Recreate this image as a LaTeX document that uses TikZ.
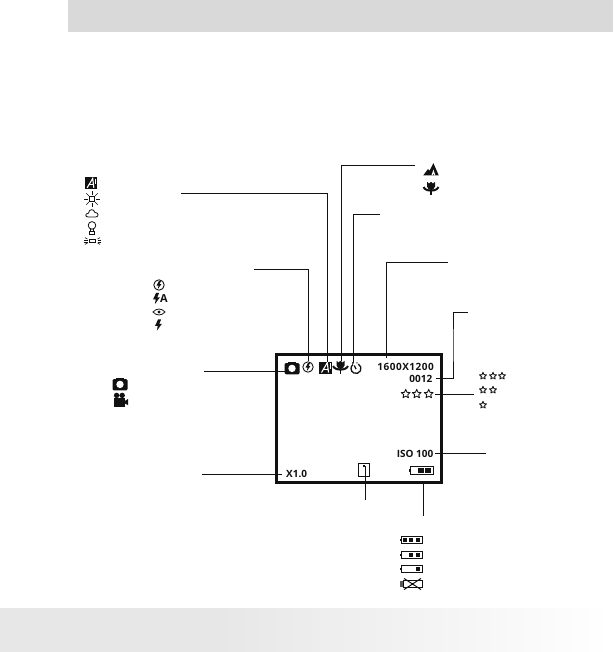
\documentclass[tikz,border=0pt]{standalone}
\usepackage{fontspec}
\setmainfont{Open Sans}
\definecolor{band}{HTML}{D9D9D9}
\definecolor{foot}{HTML}{E7E7E7}
\definecolor{ink}{HTML}{111111}
\tikzset{
  lead/.style={draw=ink,line width=1pt},
  lcd/.style={font=\fontsize{10}{10}\selectfont\bfseries,text=ink,inner sep=0pt},
  pics/awb/.style={code={
    \fill[ink] (-6.4,-6) rectangle (6.4,6);
    \draw[white,line width=1.1pt] (-4,5) -- (1.8,-4.8) -- (3,5);
    \draw[white,line width=0.9pt] (-1.6,1.6) -- (2.6,1.6);
    \draw[white,line width=0.5pt] (4.6,-4.6) -- (4.6,1);
  }},
  pics/sun/.style={code={
    \draw[ink,line width=0.8pt] (-2.8,-2.8) rectangle (2.8,2.8);
    \foreach \a in {0,45,...,315} \draw[ink,line width=0.7pt] (\a:4.4) -- (\a:8);
  }},
  pics/cloud/.style={code={
    \draw[ink,line width=0.8pt] (-3.6,4) .. controls (-7.2,4) and (-7,0.4) .. (-3.6,0.2)
      .. controls (-3,-4.4) and (2.2,-4.4) .. (2.8,-0.6) .. controls (7,-0.6) and (7,4) .. (3.6,4) -- cycle;
  }},
  pics/bulb/.style={code={
    \draw[ink,line width=0.8pt] (0,-2.6) circle (3.8);
    \draw[ink,line width=0.7pt] (-1.2,1.2) -- (-1.2,3) (1.2,1.2) -- (1.2,3);
    \draw[ink,line width=0.9pt] (-2.6,3.2) rectangle (2.6,6);
  }},
  pics/fluo/.style={code={
    \draw[ink,line width=0.8pt] (-3.2,-1.3) rectangle (3.2,1.3);
    \foreach \s in {1,-1} {
      \draw[ink,line width=0.6pt] (\s*5,-1) -- (\s*8.4,-1) (\s*5,1) -- (\s*8.4,1);
      \draw[ink,line width=0.6pt] (\s*5,-2) -- (\s*7.6,-3.4) (\s*5,2) -- (\s*7.6,3.4);
    }
  }},
  pics/bolt/.style={code={
    \fill[ink] (-0.4,-5.6) -- (-3.4,0.8) -- (-0.8,0.8) -- (-1.6,5.6) -- (3.4,-1.2) -- (0.8,-1.2) -- (2.6,-5.6) -- cycle;
  }},
  pics/flashoff/.style={code={
    \draw[ink,line width=0.9pt] (0,0) circle (5.2);
    \fill[ink] (-0.2,-3.8) -- (-2.4,0.5) -- (-0.5,0.5) -- (-1,3.8) -- (2.4,-0.9) -- (0.5,-0.9) -- (1.9,-3.8) -- cycle;
  }},
  pics/eye/.style={code={
    \draw[ink,line width=0.8pt] (-6,0) .. controls (-2.5,-4) and (2.5,-4) .. (6,0) .. controls (2.5,4) and (-2.5,4) .. (-6,0) -- cycle;
    \fill[ink] (0,0) circle (1.7);
  }},
  pics/camera/.style={code={
    \fill[ink,rounded corners=1.4pt] (-7.5,-5) rectangle (7.5,6.4);
    \fill[ink] (-4,-6.4) rectangle (4,-4);
    \fill[white] (0,0.4) circle (3.7);
  }},
  pics/video/.style={code={
    \fill[ink] (-3.4,-4.6) circle (2.7) (2.2,-4.6) circle (2.7);
    \fill[ink] (-6,-2) rectangle (4.5,6.5);
    \fill[ink] (4,1.5) -- (8,-1) -- (8,5) -- (4,3) -- cycle;
  }},
  pics/timer/.style={code={
    \draw[ink,line width=1.3pt] (-62:5) arc (-62:232:5);
    \draw[ink,line width=1.3pt] (0,0.6) -- (-1.7,-3);
    \fill[ink] (-3.1,-5.5) circle (1) (1,-5.6) circle (0.7);
  }},
  pics/macro/.style={code={
    \fill[ink] (0,-6.2) -- (2,-4.4) -- (4,-6.2) -- (4,-1.5) .. controls (3.6,1.6) and (1,2) .. (0,2) .. controls (-1,2) and (-3.6,1.6) .. (-4,-1.5) -- (-4,-6.2) -- (-2,-4.4) -- cycle;
    \draw[ink,line width=2pt] (-7.4,-1) .. controls (-6,3.8) and (6,3.8) .. (7.4,-1);
    \draw[ink,line width=1.8pt] (0,1) -- (0,6.6);
  }},
  pics/mountain/.style={code={
    \fill[ink] (-7.8,6) -- (-3,-0.5) -- (-1.4,1.2) -- (2.4,-6.4) -- (7.8,6) -- cycle;
    \fill[white] (0.4,6) -- (2.4,0.2) -- (4.4,6) -- (3.3,6) -- (2.4,3.6) -- (1.5,6) -- cycle;
  }},
  pics/star/.style={code={
    \draw[ink,line width=0.85pt,line join=round] (-90:3.7) -- (-54:1.7) -- (-18:3.7) -- (18:1.7) -- (54:3.7) -- (90:1.7) -- (126:3.7) -- (162:1.7) -- (198:3.7) -- (234:1.7) -- cycle;
  }},
  pics/card/.style={code={
    \draw[ink,line width=1.1pt] (-5.6,-6.6) -- (-5.6,6.6) -- (5.6,6.6) -- (5.6,-6.6) -- cycle;
    \fill[ink] (-1.2,-5.4) rectangle (1.2,-2.6);
  }},
  pics/batt/.style={code={
    \draw[ink,line width=1pt] (-9.5,-3.3) rectangle (11,3.3);
    \fill[ink] (-11.4,-1.3) rectangle (-10,1.3);
  }},
  pics/cell/.style={code={\fill[ink] (-2.4,-2.3) rectangle (2.4,2.3);}},
  pics/deadbatt/.style={code={
    \draw[ink,line width=0.8pt] (-8,-3.6) rectangle (11,3.6);
    \fill[ink!70] (-11.4,-2.6) rectangle (-8,2.6);
    \draw[ink,line width=1pt] (-7,-5.6) -- (10,5.6) (-7,5.6) -- (10,-5.6);
  }},
}
\begin{document}
\begin{tikzpicture}[x=1pt,y=-1pt]
\useasboundingbox (0,0) rectangle (613,652);
% page bands
\fill[band] (68,0) rectangle (613,32);
\fill[foot] (0,608) rectangle (220,652);
\shade[left color=foot,right color=white,shading angle=90,draw=none] (220,608) rectangle (613,652);
% LCD frame
\node[draw=ink,line width=3.8pt,minimum width=165pt,minimum height=128pt,inner sep=0pt,outer sep=0pt,anchor=center] (screen) at (359,418.5) {};
% LCD readouts
\node[lcd,anchor=east] (res) at (434,366.5) {\addfontfeature{LetterSpace=5}1600X1200};
\node[lcd,anchor=east] (count) at (432.5,378.5) {0012};
\node[lcd,anchor=east] (iso) at (433.5,453.5) {ISO 100};
\node[lcd,anchor=west] (zoom) at (286,473.5) {X1.0};
% icon positions
\coordinate (lcdCam) at (292,368);
\coordinate (lcdFlash) at (308,367);
\coordinate (lcdWb) at (325.5,367.5);
\coordinate (lcdMacro) at (340.5,367);
\coordinate (lcdTimer) at (356,368.5);
\coordinate (lcdCard) at (364,470);
\coordinate (lcdBatt) at (421.5,470.5);
% icons on the LCD
\pic at (lcdCam) {camera};
\pic at (lcdFlash) {flashoff};
\pic at (lcdWb) {awb};
\pic at (lcdMacro) {macro};
\pic at (lcdTimer) {timer};
\pic at (lcdCard) {card};
\pic[scale=1.12] at (lcdBatt) {batt};
\pic[scale=1.05] at (421,470.5) {cell};
\pic[scale=1.05] at (428,470.5) {cell};
\foreach \x in {405.7,416.7,428.7} \pic[scale=1.25] at (\x,394) {star};
% white balance legend
\pic[scale=0.95] at (91,183) {awb};
\pic at (92,199) {sun};
\pic at (92,213) {cloud};
\pic at (92,228) {bulb};
\pic at (92.5,241) {fluo};
% flash legend
\pic at (159,285) {flashoff};
\pic at (156.5,298.5) {bolt};
\node[lcd,font=\fontsize{11}{11}\selectfont\bfseries] (autoA) at (164,299) {A};
\pic at (159,312) {eye};
\pic at (158.5,325) {bolt};
% mode legend
\pic at (120,384) {camera};
\pic at (120,400) {video};
% macro legend
\pic at (431,169.5) {mountain};
\pic at (431,188) {macro};
% quality legend
\foreach \x/\y in {483/376,493/376,502/376,483/390,493/390,483/405} \pic at (\x,\y) {star};
% battery legend
\foreach \y in {540,555,569} \pic at (411,\y) {batt};
\pic at (411,584) {deadbatt};
\foreach \x/\y in {405/540,411/540,418/540,411/555,418/555,418/569} \pic at (\x,\y) {cell};
% connector ends
\coordinate (wbFree) at (181,194);
\coordinate (wbEnd) at (327,362);
\coordinate (flFree) at (254,269);
\coordinate (flEnd) at (308,361);
\coordinate (maFree) at (415,166);
\coordinate (maEnd) at (341,361);
\coordinate (tiFree) at (380,214);
\coordinate (tiEnd) at (353,363);
\coordinate (reFree) at (448,262);
\coordinate (reEnd) at (386,358);
\coordinate (coFree) at (468,312);
\coordinate (coStart) at (436,378);
\coordinate (coKnee) at (453,345);
\coordinate (stFree) at (474,394);
\coordinate (stStart) at (435,394);
\coordinate (isFree) at (486,453);
\coordinate (isStart) at (435,453);
\coordinate (caFree) at (204,371.5);
\coordinate (caEnd) at (285,371.5);
\coordinate (zoFree) at (202,474);
\coordinate (zoEnd) at (282,474);
\coordinate (cdFree) at (365,500);
\coordinate (cdEnd) at (365,466);
\coordinate (baFree) at (423,516);
\coordinate (baEnd) at (423,483);
% connectors
\draw[lead] (wbFree) -| (wbEnd);
\draw[lead] (flFree) -| (flEnd);
\draw[lead] (maFree) -| (maEnd);
\draw[lead] (tiFree) -| (tiEnd);
\draw[lead] (reFree) -| (reEnd);
\draw[lead] (coStart) -| (coKnee) |- (coFree);
\draw[lead] (stStart) -- (stFree);
\draw[lead] (isStart) -- (isFree);
\draw[lead] (caFree) -- (caEnd);
\draw[lead] (zoFree) -- (zoEnd);
\draw[lead] (cdEnd) -- (cdFree);
\draw[lead] (baEnd) -- (baFree);
\end{tikzpicture}
\end{document}
